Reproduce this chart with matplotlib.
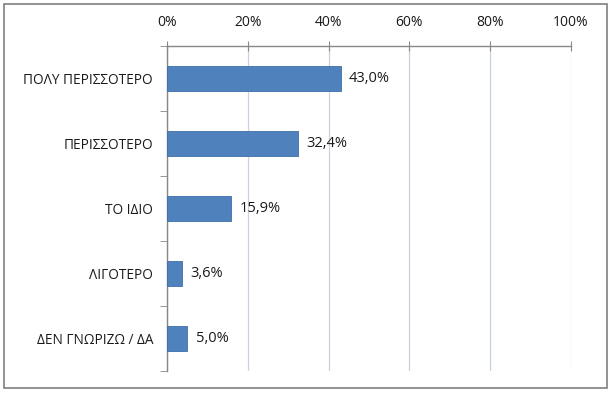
import matplotlib.pyplot as plt
from matplotlib.patches import Rectangle

plt.rcParams['font.family'] = ['Open Sans', 'DejaVu Sans']

# dati
categories = ["ΠΟΛΥ ΠΕΡΙΣΣΟΤΕΡΟ", "ΠΕΡΙΣΣΟΤΕΡΟ", "ΤΟ ΙΔΙΟ", "ΛΙΓΟΤΕΡΟ", "ΔΕΝ ΓΝΩΡΙΖΩ / ΔΑ"]
values = [43.0, 32.4, 15.9, 3.6, 5.0]
ticks = [0, 20, 40, 60, 80, 100]
tick_labels = ["0%", "20%", "40%", "60%", "80%", "100%"]

fig = plt.figure(figsize=(6.13, 3.95), dpi=100)
ax = fig.add_axes([167 / 613, 1 - 371 / 395, (571 - 167) / 613, (371 - 46) / 395])

y = list(range(len(categories)))
ax.barh(y, values, height=0.38, color="#4F81BD", edgecolor="#3F6FA8", linewidth=0.6, zorder=3)

for yi, v in zip(y, values):
    lbl = f"{v:.1f}%".replace(".", ",")
    ax.annotate(lbl, (v, yi), xytext=(6, 0), textcoords="offset points",
                va="center", ha="left", fontsize=10.5, color="#1a1a1a")

ax.set_xlim(0, 100)
ax.set_ylim(len(categories) - 0.5, -0.5)
ax.set_xticks(ticks)
ax.set_xticklabels(tick_labels, fontsize=10, color="#1a1a1a")
ax.xaxis.tick_top()
ax.tick_params(axis="x", direction="inout", length=7, color="#888888", pad=8)
ax.set_yticks(y)
ax.set_yticklabels(categories, fontsize=9.8, color="#1a1a1a")
ax.tick_params(axis="y", length=0, pad=10)
# tacche tra le categorie
ax.set_yticks([i - 0.5 for i in range(len(categories) + 1)], minor=True)
ax.tick_params(axis="y", which="minor", length=5, color="#888888", direction="out")

ax.grid(axis="x", color="#C8D3E0", linewidth=0.9, zorder=0)
for s in ["right", "bottom"]:
    ax.spines[s].set_visible(False)
for s in ["top", "left"]:
    ax.spines[s].set_color("#888888")
    ax.spines[s].set_linewidth(1.0)

fig.patches.append(Rectangle((4 / 613, 1 - 388 / 395), 603 / 613, 384 / 395,
                             transform=fig.transFigure, fill=False,
                             edgecolor="#808080", linewidth=1.2))

fig.savefig("out.png", dpi=100)
